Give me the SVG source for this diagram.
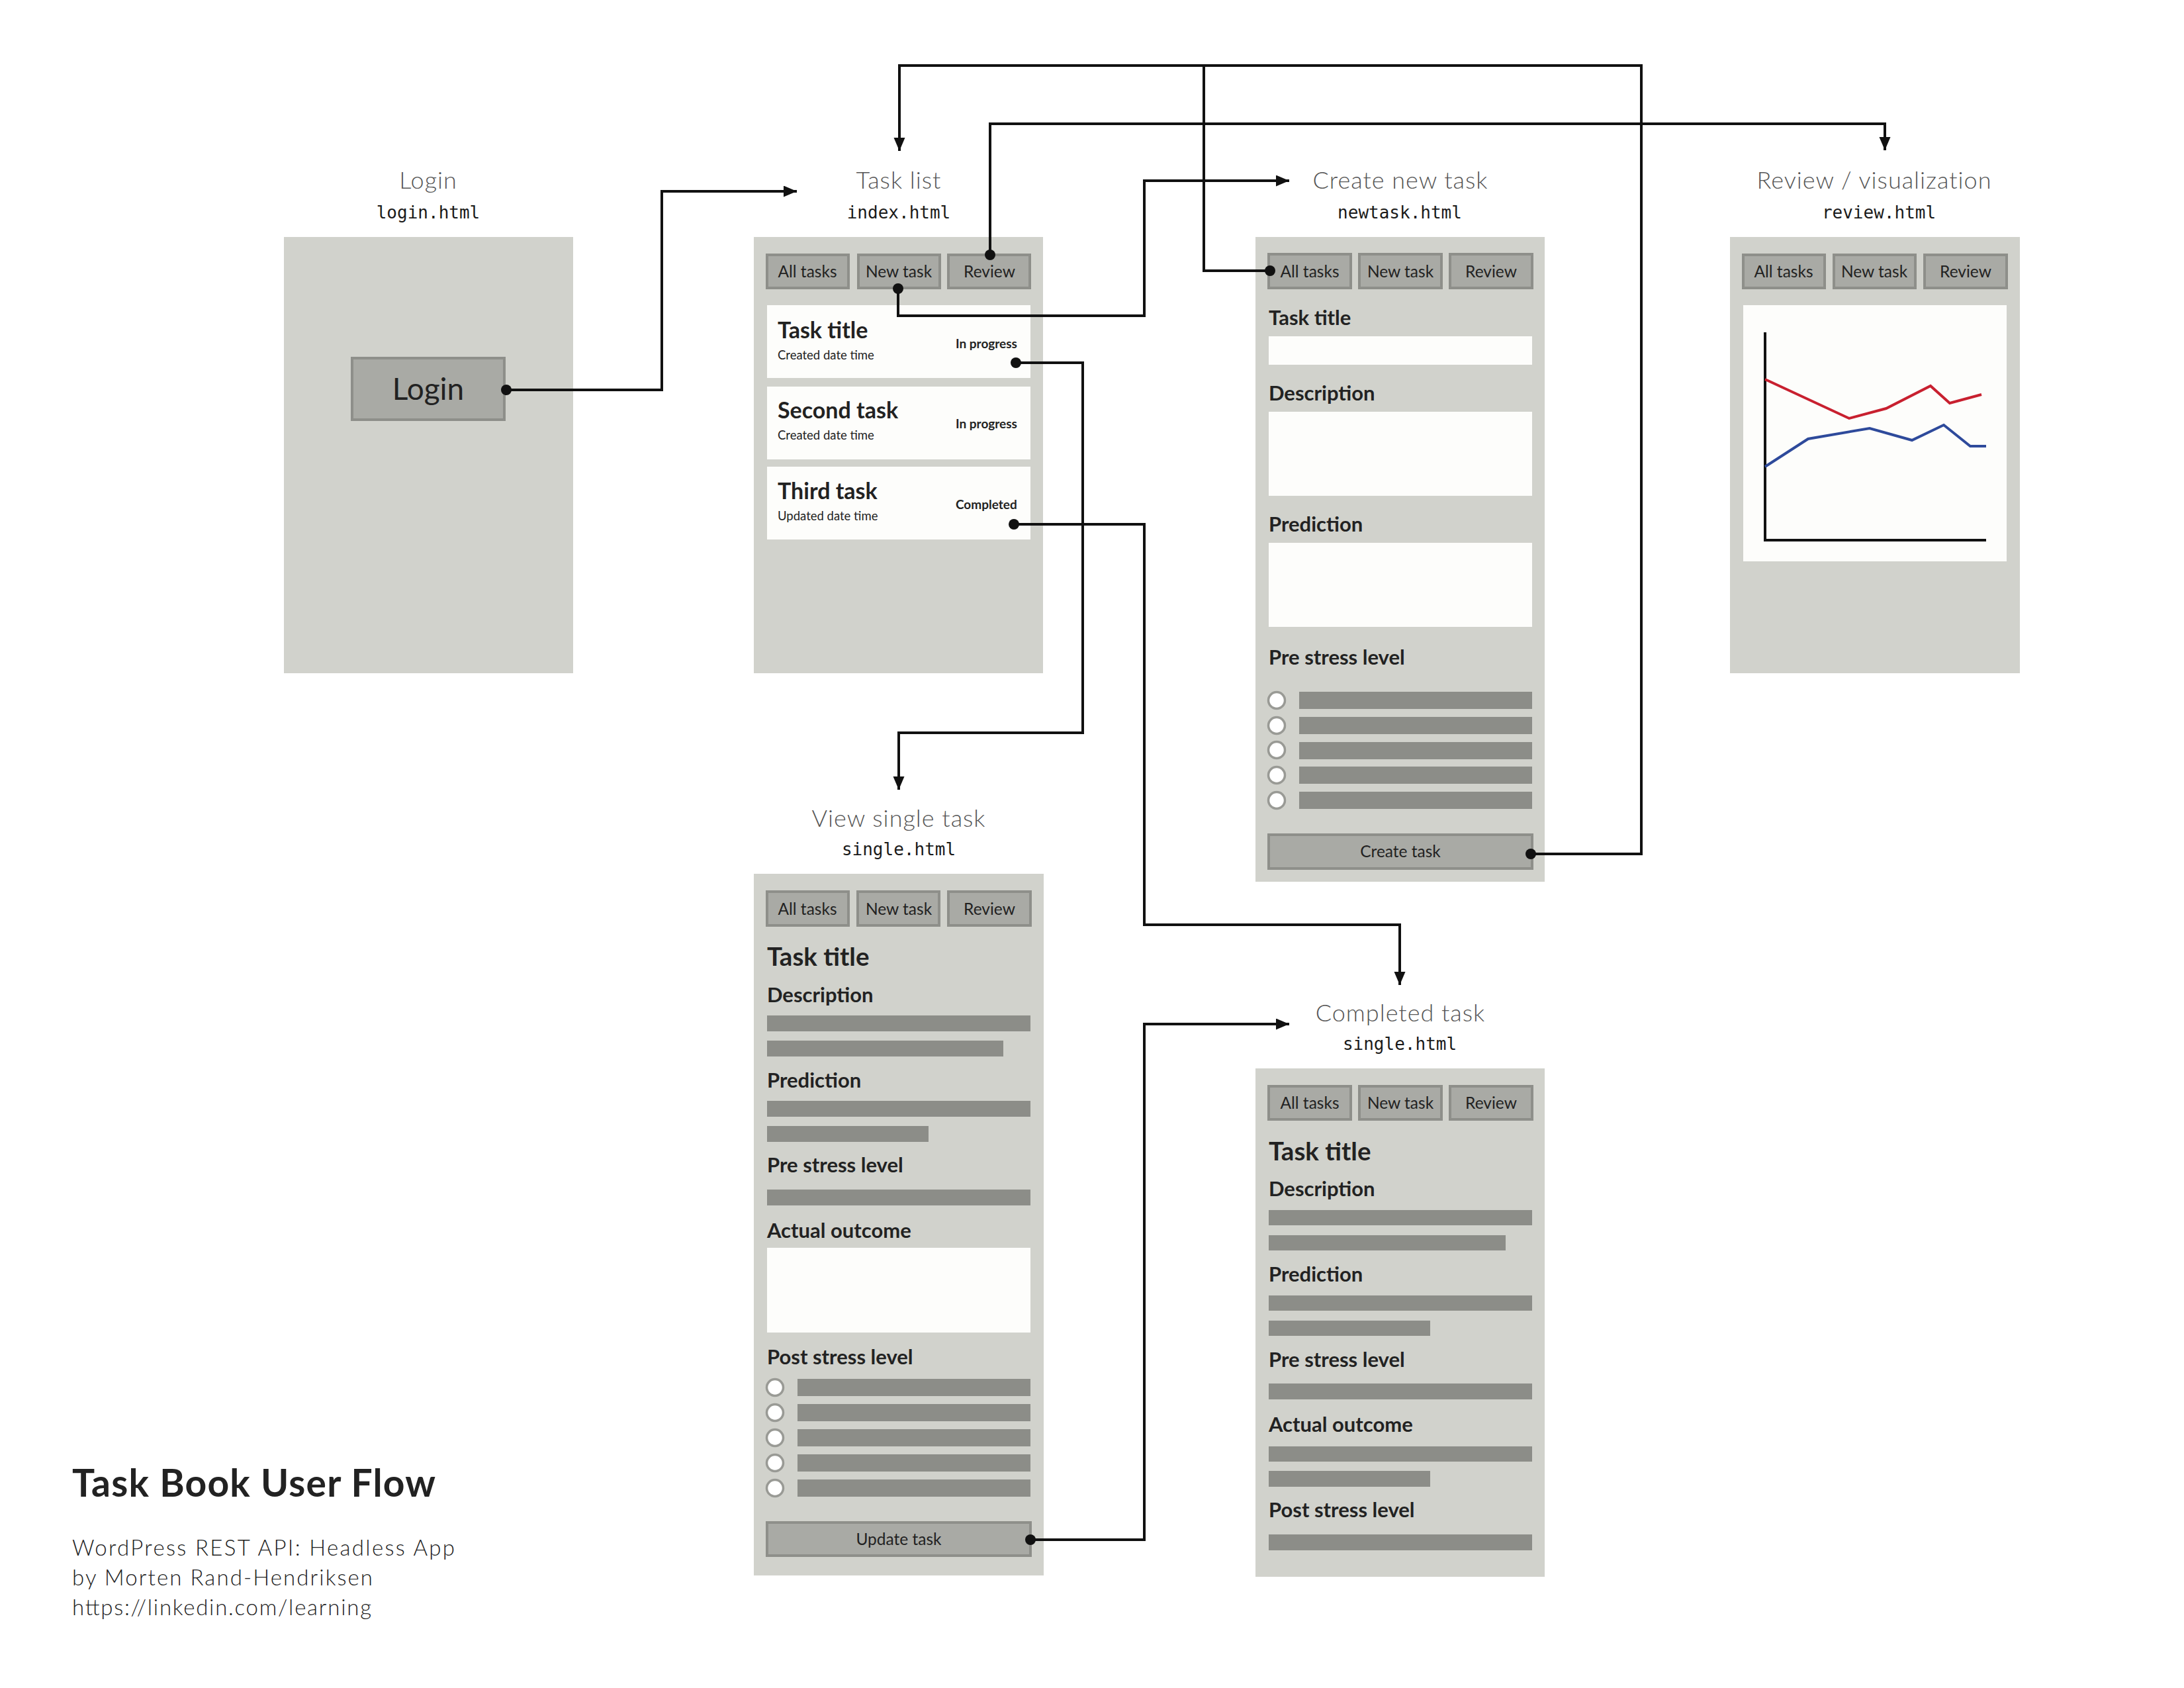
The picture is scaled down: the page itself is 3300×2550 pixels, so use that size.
<svg xmlns="http://www.w3.org/2000/svg" width="3300" height="2550" viewBox="0 0 3300 2550">
<style>
.bg{fill:#ffffff}
.panel{fill:#d1d2cc}
.white{fill:#fdfdfb}
.btn{fill:#a9aaa5;stroke:#8e8f8a;stroke-width:4}
.bar{fill:#8c8d88}
.radio{fill:#ffffff;stroke:#999a95;stroke-width:3.5}
.ttl{font-family:Lato,"Liberation Sans",sans-serif;font-weight:300;font-size:36px;fill:#555;text-anchor:middle;letter-spacing:1px}
.mono{font-family:"DejaVu Sans Mono","Liberation Mono",monospace;font-size:26px;fill:#1a1a1a;text-anchor:middle}
.nav{font-family:Lato,"Liberation Sans",sans-serif;font-size:24.5px;fill:#222;text-anchor:middle}
.ctitle{font-family:Lato,"Liberation Sans",sans-serif;font-weight:700;font-size:34px;fill:#222}
.csub{font-family:Lato,"Liberation Sans",sans-serif;font-size:18.5px;fill:#222}
.cstat{font-family:Lato,"Liberation Sans",sans-serif;font-weight:700;font-size:19px;fill:#222}
.lbl{font-family:Lato,"Liberation Sans",sans-serif;font-weight:700;font-size:31px;fill:#222}
.head{font-family:Lato,"Liberation Sans",sans-serif;font-weight:700;font-size:38.5px;fill:#222}
.btxt{font-family:Lato,"Liberation Sans",sans-serif;font-size:24.5px;fill:#222;text-anchor:middle}
.cap{font-family:Lato,"Liberation Sans",sans-serif;font-weight:300;font-size:33px;fill:#222}
.conn{fill:none;stroke:#111;stroke-width:4}
.dot{fill:#111}
</style>
<defs>
<marker id="arr" markerUnits="userSpaceOnUse" markerWidth="22" markerHeight="18" refX="20" refY="8.5" orient="auto">
<path d="M0,0 L20,8.5 L0,17 Z" fill="#111"/>
</marker>
</defs>
<rect class="bg" x="0" y="0" width="3300" height="2550"/>

<g id="login">
<text class="ttl" x="647" y="285">Login</text>
<text class="mono" x="647" y="330">login.html</text>
<rect class="panel" x="429" y="358" width="437" height="659"/>
<rect class="btn" x="532" y="541" width="230" height="93"/>
<text class="btxt" x="647" y="604" style="font-size:46px">Login</text>
</g>

<g id="task-list">
<text class="ttl" x="1358" y="285">Task list</text>
<text class="mono" x="1358" y="330">index.html</text>
<rect class="panel" x="1139" y="358" width="437" height="659"/>
<rect class="btn" x="1159" y="385" width="123" height="50"/>
<rect class="btn" x="1297" y="385" width="123" height="50"/>
<rect class="btn" x="1433" y="385" width="123" height="50"/>
<text class="nav" x="1220" y="419">All tasks</text>
<text class="nav" x="1358" y="419">New task</text>
<text class="nav" x="1495" y="419">Review</text>
<rect class="white" x="1159" y="461" width="398" height="110"/>
<rect class="white" x="1159" y="584" width="398" height="110"/>
<rect class="white" x="1159" y="705" width="398" height="110"/>
<text class="ctitle" x="1175" y="511">Task title</text>
<text class="csub" x="1175" y="543">Created date time</text>
<text class="cstat" x="1444" y="526">In progress</text>
<text class="ctitle" x="1175" y="632">Second task</text>
<text class="csub" x="1175" y="664">Created date time</text>
<text class="cstat" x="1444" y="647">In progress</text>
<text class="ctitle" x="1175" y="754">Third task</text>
<text class="csub" x="1175" y="786">Updated date time</text>
<text class="cstat" x="1444" y="769">Completed</text>
</g>

<g id="create-task">
<text class="ttl" x="2116" y="285">Create new task</text>
<text class="mono" x="2115" y="330">newtask.html</text>
<rect class="panel" x="1897" y="358" width="437" height="974"/>
<rect class="btn" x="1917" y="384" width="124" height="51"/>
<rect class="btn" x="2054" y="384" width="124" height="51"/>
<rect class="btn" x="2191" y="384" width="124" height="51"/>
<text class="nav" x="1979" y="419">All tasks</text>
<text class="nav" x="2116" y="419">New task</text>
<text class="nav" x="2253" y="419">Review</text>
<text class="lbl" x="1917" y="491">Task title</text>
<rect class="white" x="1917" y="508" width="398" height="43"/>
<text class="lbl" x="1917" y="605">Description</text>
<rect class="white" x="1917" y="622" width="398" height="127"/>
<text class="lbl" x="1917" y="803">Prediction</text>
<rect class="white" x="1917" y="820" width="398" height="127"/>
<text class="lbl" x="1917" y="1004">Pre stress level</text>
<circle class="radio" cx="1929" cy="1058" r="12.5"/>
<circle class="radio" cx="1929" cy="1096" r="12.5"/>
<circle class="radio" cx="1929" cy="1133" r="12.5"/>
<circle class="radio" cx="1929" cy="1171" r="12.5"/>
<circle class="radio" cx="1929" cy="1209" r="12.5"/>
<rect class="bar" x="1963" y="1045" width="352" height="26"/>
<rect class="bar" x="1963" y="1083" width="352" height="26"/>
<rect class="bar" x="1963" y="1121" width="352" height="26"/>
<rect class="bar" x="1963" y="1158" width="352" height="26"/>
<rect class="bar" x="1963" y="1196" width="352" height="26"/>
<rect class="btn" x="1917" y="1261" width="398" height="51"/>
<text class="btxt" x="2116" y="1295">Create task</text>
</g>

<g id="review">
<text class="ttl" x="2832" y="285">Review / visualization</text>
<text class="mono" x="2839" y="330">review.html</text>
<rect class="panel" x="2614" y="358" width="438" height="659"/>
<rect class="btn" x="2634" y="385" width="123" height="50"/>
<rect class="btn" x="2771" y="385" width="123" height="50"/>
<rect class="btn" x="2908" y="385" width="124" height="50"/>
<text class="nav" x="2695" y="419">All tasks</text>
<text class="nav" x="2832" y="419">New task</text>
<text class="nav" x="2970" y="419">Review</text>
<rect class="white" x="2634" y="461" width="398" height="387"/>
<path d="M2667,502 V816 H3001" fill="none" stroke="#111" stroke-width="4"/>
<polyline points="2667,573 2794,632 2850,617 2917,583 2946,609 2994,596" fill="none" stroke="#c8202f" stroke-width="4"/>
<polyline points="2667,705 2732,663 2825,647 2889,665 2937,642 2977,674 3001,674" fill="none" stroke="#2e4a9b" stroke-width="4"/>
</g>

<g id="view-single">
<text class="ttl" x="1358" y="1249">View single task</text>
<text class="mono" x="1358" y="1292">single.html</text>
<rect class="panel" x="1139" y="1320" width="438" height="1060"/>
<rect class="btn" x="1159" y="1347" width="123" height="51"/>
<rect class="btn" x="1296" y="1347" width="123" height="51"/>
<rect class="btn" x="1433" y="1347" width="124" height="51"/>
<text class="nav" x="1220" y="1382">All tasks</text>
<text class="nav" x="1358" y="1382">New task</text>
<text class="nav" x="1495" y="1382">Review</text>
<text class="head" x="1159" y="1459">Task title</text>
<text class="lbl" x="1159" y="1514">Description</text>
<rect class="bar" x="1159" y="1534" width="398" height="24"/>
<rect class="bar" x="1159" y="1572" width="357" height="24"/>
<text class="lbl" x="1159" y="1643">Prediction</text>
<rect class="bar" x="1159" y="1663" width="398" height="24"/>
<rect class="bar" x="1159" y="1701" width="244" height="24"/>
<text class="lbl" x="1159" y="1771">Pre stress level</text>
<rect class="bar" x="1159" y="1797" width="398" height="24"/>
<text class="lbl" x="1159" y="1870">Actual outcome</text>
<rect class="white" x="1159" y="1885" width="398" height="128"/>
<text class="lbl" x="1159" y="2061">Post stress level</text>
<circle class="radio" cx="1171" cy="2096" r="12.5"/>
<circle class="radio" cx="1171" cy="2134" r="12.5"/>
<circle class="radio" cx="1171" cy="2172" r="12.5"/>
<circle class="radio" cx="1171" cy="2210" r="12.5"/>
<circle class="radio" cx="1171" cy="2248" r="12.5"/>
<rect class="bar" x="1205" y="2083" width="352" height="26"/>
<rect class="bar" x="1205" y="2121" width="352" height="26"/>
<rect class="bar" x="1205" y="2159" width="352" height="26"/>
<rect class="bar" x="1205" y="2197" width="352" height="26"/>
<rect class="bar" x="1205" y="2235" width="352" height="26"/>
<rect class="btn" x="1159" y="2300" width="398" height="50"/>
<text class="btxt" x="1358" y="2334">Update task</text>
</g>

<g id="completed-task">
<text class="ttl" x="2116" y="1543">Completed task</text>
<text class="mono" x="2115" y="1586">single.html</text>
<rect class="panel" x="1897" y="1614" width="437" height="768"/>
<rect class="btn" x="1917" y="1641" width="124" height="50"/>
<rect class="btn" x="2054" y="1641" width="124" height="50"/>
<rect class="btn" x="2191" y="1641" width="124" height="50"/>
<text class="nav" x="1979" y="1675">All tasks</text>
<text class="nav" x="2116" y="1675">New task</text>
<text class="nav" x="2253" y="1675">Review</text>
<text class="head" x="1917" y="1753">Task title</text>
<text class="lbl" x="1917" y="1807">Description</text>
<rect class="bar" x="1917" y="1828" width="398" height="23"/>
<rect class="bar" x="1917" y="1866" width="358" height="23"/>
<text class="lbl" x="1917" y="1936">Prediction</text>
<rect class="bar" x="1917" y="1957" width="398" height="23"/>
<rect class="bar" x="1917" y="1995" width="244" height="23"/>
<text class="lbl" x="1917" y="2065">Pre stress level</text>
<rect class="bar" x="1917" y="2090" width="398" height="24"/>
<text class="lbl" x="1917" y="2163">Actual outcome</text>
<rect class="bar" x="1917" y="2185" width="398" height="23"/>
<rect class="bar" x="1917" y="2222" width="244" height="24"/>
<text class="lbl" x="1917" y="2292">Post stress level</text>
<rect class="bar" x="1917" y="2318" width="398" height="24"/>
</g>

<g id="caption">
<text x="109" y="2261" textLength="549" lengthAdjust="spacing" style="font-family:Lato,'Liberation Sans',sans-serif;font-weight:700;font-size:57px;fill:#222">Task Book User Flow</text>
<text class="cap" x="109" y="2350" textLength="578" lengthAdjust="spacing">WordPress REST API: Headless App</text>
<text class="cap" x="109" y="2395" textLength="454" lengthAdjust="spacing">by Morten Rand-Hendriksen</text>
<text class="cap" x="109" y="2440" textLength="452" lengthAdjust="spacing">https://linkedin.com/learning</text>
</g>

<g id="connectors">
<path class="conn" d="M765,589 H1000 V289 H1204" marker-end="url(#arr)"/>
<path class="conn" d="M2313,1290 H2480 V99 H1359 V228" marker-end="url(#arr)"/>
<path class="conn" d="M1919,409 H1819 V99"/>
<path class="conn" d="M1496,385 V187 H2848 V227" marker-end="url(#arr)"/>
<path class="conn" d="M1357,436 V477 H1729 V273 H1948" marker-end="url(#arr)"/>
<path class="conn" d="M1535,548 H1636 V1107 H1358 V1193" marker-end="url(#arr)"/>
<path class="conn" d="M1532,792 H1729 V1397 H2115 V1488" marker-end="url(#arr)"/>
<path class="conn" d="M1557,2326 H1729 V1547 H1948" marker-end="url(#arr)"/>
<circle class="dot" cx="765" cy="589" r="8"/>
<circle class="dot" cx="2313" cy="1290" r="8"/>
<circle class="dot" cx="1919" cy="409" r="8"/>
<circle class="dot" cx="1496" cy="385" r="8"/>
<circle class="dot" cx="1357" cy="436" r="8"/>
<circle class="dot" cx="1535" cy="548" r="8"/>
<circle class="dot" cx="1532" cy="792" r="8"/>
<circle class="dot" cx="1557" cy="2326" r="8"/>
</g>
</svg>
